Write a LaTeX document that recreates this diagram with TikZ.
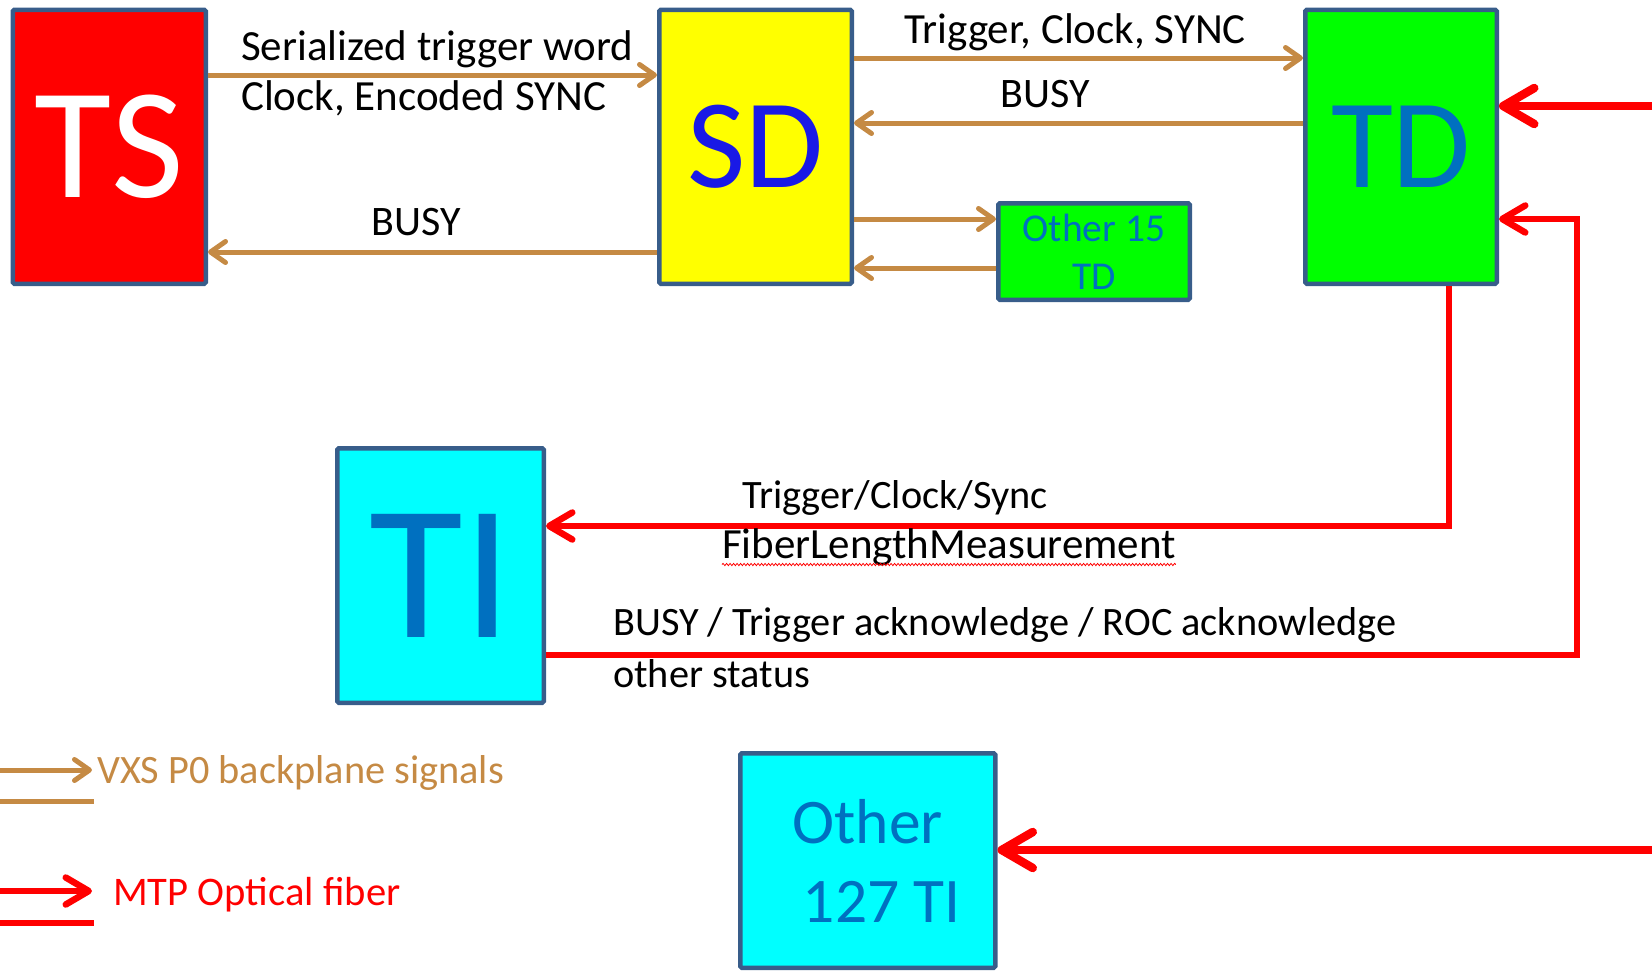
\documentclass[tikz,border=0pt]{standalone}
\usepackage{fontspec}
\setmainfont{Carlito}
\usetikzlibrary{arrows.meta,decorations.pathmorphing}

\definecolor{buscol}{RGB}{197,138,68}
\definecolor{fibercol}{RGB}{255,0,0}
\definecolor{framecol}{RGB}{56,93,138}
\definecolor{labblue}{RGB}{0,112,192}
\definecolor{sdblue}{RGB}{25,25,230}
\definecolor{tsred}{RGB}{255,0,0}
\definecolor{sdyellow}{RGB}{255,255,0}
\definecolor{tdgreen}{RGB}{0,255,0}
\definecolor{ticyan}{RGB}{0,255,255}

\tikzset{
  board/.style={draw=framecol, line width=4.5pt, rounded corners=1.5pt,
    inner sep=0pt, align=center},
  lbl/.style={font=\fontsize{42}{50}\selectfont, inner sep=0pt},
  lblbig/.style={font=\fontsize{43}{50}\selectfont, inner sep=0pt},
  lblsmall/.style={font=\fontsize{40.3}{50}\selectfont, inner sep=0pt},
  busline/.style={draw=buscol, line width=5pt,
    -{Straight Barb[length=15pt, width=21pt, round]}},
  busplain/.style={draw=buscol, line width=5pt},
  fiberline/.style={draw=fibercol, line width=6.5pt,
    -{Straight Barb[length=23pt, width=27pt, round]}},
  fiberthick/.style={draw=fibercol, line width=8.5pt,
    -{Straight Barb[length=31pt, width=36pt, round]}},
  fiberplain/.style={draw=fibercol, line width=6.5pt},
}

\begin{document}
\begin{tikzpicture}[x=1pt, y=-1pt]
\useasboundingbox (0,0) rectangle (1652,972);

% modules
\node[board, fill=tsred, text=white, minimum width=193pt, minimum height=274pt,
  font=\fontsize{158}{160}\selectfont] (TS) at (109.25,146.75) {TS};
\node[board, fill=sdyellow, text=sdblue, minimum width=192.5pt, minimum height=274pt,
  font=\fontsize{127}{130}\selectfont] (SD) at (755.5,146.75) {SD};
\node[board, fill=tdgreen, text=labblue, minimum width=191.5pt, minimum height=274pt,
  font=\fontsize{127}{130}\selectfont] (TD) at (1401,146.75) {TD};
\node[board, fill=tdgreen, text=labblue, minimum width=191.5pt, minimum height=96.5pt,
  font=\fontsize{39.5}{48}\selectfont] (O15) at (1094,251.5) {Other 15\\TD};
\node[board, fill=ticyan, text=labblue, minimum width=206.5pt, minimum height=254.5pt,
  font=\fontsize{192}{196}\selectfont] (TI) at (440.5,575.5) {TI};
\node[board, fill=ticyan, text=labblue, minimum width=255pt, minimum height=214.5pt,
  font=\fontsize{63.5}{79}\selectfont] (O127) at (867.75,860.5) {Other\\\hspace*{28pt}127 TI};

% backplane links
\draw[busline] (TS.east |- 0,75) -- (SD.west |- 0,75);
\draw[busline] (SD.west |- 0,252) -- (TS.east |- 0,252);
\draw[busline] (SD.east |- 0,58) -- (TD.west |- 0,58);
\draw[busline] (TD.west |- 0,123) -- (SD.east |- 0,123);
\draw[busline] (SD.east |- 0,219) -- (O15.west |- 0,219);
\draw[busline] (O15.west |- 0,268) -- (SD.east |- 0,268);

% fiber links
\coordinate (feedTD) at (1652,106);
\coordinate (feed127) at (1652,850);
\coordinate (riser) at (1577,0);
\draw[fiberthick] (feedTD) -- (TD.east |- feedTD);
\draw[fiberthick] (feed127) -- (O127.east |- feed127);
\draw[fiberline] (TI.east |- 0,655) -| (riser |- 0,219) -- (TD.east |- 0,219);
\draw[fiberline] (TD.south -| 1449,0) |- (TI.east |- 0,526);

% link labels
\node[lblbig, anchor=base west] (l1) at (241,60) {Serialized trigger word};
\node[lblbig, anchor=base west] (l2) at (241,110) {Clock, Encoded SYNC};
\node[lbl, anchor=base] (l3) at (416,235) {BUSY};
\node[lblbig, anchor=base] (l4) at (1075,43) {Trigger, Clock, SYNC};
\node[lbl, anchor=base] (l5) at (1045,107) {BUSY};
\node[lblsmall, anchor=base west] (l6) at (742,508) {Trigger/Clock/Sync};
\node[lblbig, anchor=base west] (flm) at (722,558) {FiberLengthMeasurement};
\draw[fibercol, line width=0.8pt, decorate,
  decoration={snake, amplitude=1.1pt, segment length=3.5pt}]
  ([yshift=-6.5pt]flm.base west) -- ([yshift=-6.5pt]flm.base east);
\node[lblsmall, anchor=base west] (l8) at (613,635) {BUSY / Trigger acknowledge / ROC acknowledge};
\node[lblsmall, anchor=base west] (l9) at (613,687) {other status};

% legend
\coordinate (k1a) at (0,770);  \coordinate (k1b) at (92,770);
\coordinate (k2a) at (0,801);  \coordinate (k2b) at (94,801);
\coordinate (k3a) at (0,891);  \coordinate (k3b) at (92,891);
\coordinate (k4a) at (0,923);  \coordinate (k4b) at (94,923);
\draw[busline] (k1a) -- (k1b);
\draw[busplain] (k2a) -- (k2b);
\draw[fiberline] (k3a) -- (k3b);
\draw[fiberplain] (k4a) -- (k4b);
\node[lblsmall, anchor=base west, text=buscol] (kv) at (97,783) {VXS P0 backplane signals};
\node[font=\fontsize{40.6}{50}\selectfont, inner sep=0pt, anchor=base west, text=fibercol] (km) at (113,905) {MTP Optical fiber};
\end{tikzpicture}
\end{document}
